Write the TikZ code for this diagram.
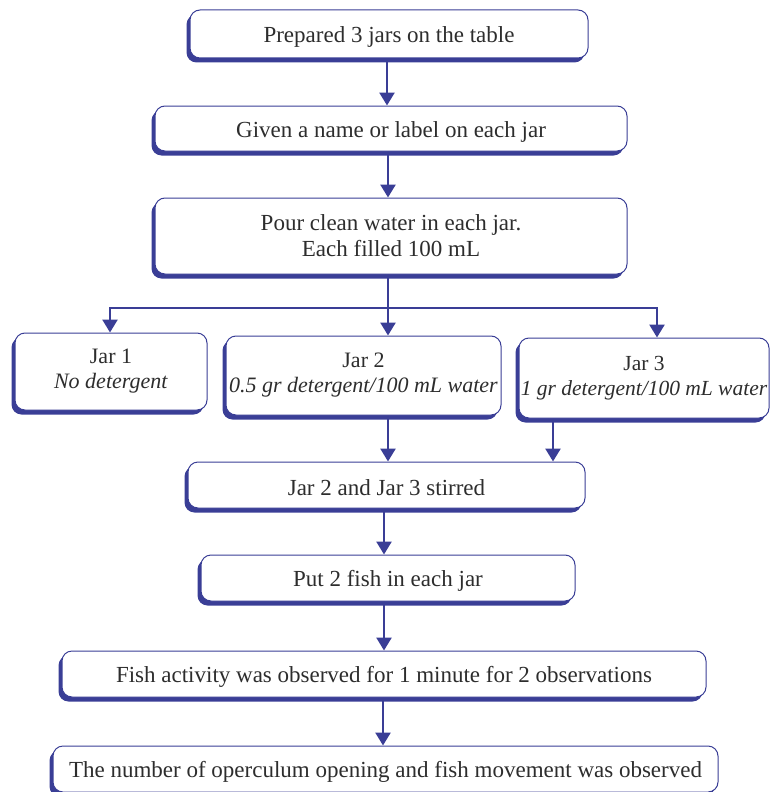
\documentclass[tikz,border=0pt]{standalone}
\usepackage{fontspec}
\setmainfont{Liberation Serif}
\usetikzlibrary{arrows.meta,shadows,calc}
\definecolor{fblue}{RGB}{58,62,150}
\definecolor{ftext}{RGB}{45,45,45}
\tikzset{
  fbox/.style={draw=fblue, line width=1pt, rounded corners=10pt, fill=white,
    general shadow={shadow xshift=-3.5pt, shadow yshift=-4.5pt, fill=fblue},
    text=ftext, font=\fontsize{23}{27}\selectfont, align=center, inner sep=0pt,
    execute at begin node={\rule{0pt}{22pt}}},
  jarfont/.style={font=\fontsize{22}{26}\selectfont},
  arr/.style={draw=fblue, line width=2.6pt, -{Triangle[width=15pt,length=13pt]}},
  lin/.style={draw=fblue, line width=2.6pt}
}
\begin{document}
\begin{tikzpicture}[x=1pt,y=-1pt]
\useasboundingbox (0,0) rectangle (770,792);
\node[fbox, minimum width=398pt, minimum height=48pt] (b1) at (389,34) {Prepared 3 jars on the table};
\node[fbox, minimum width=472pt, minimum height=45pt] (b2) at (391,128.5) {Given a name or label on each jar};
\node[fbox, minimum width=472pt, minimum height=76pt] (b3) at (391,236) {Pour clean water in each jar.\\[-1pt] Each filled 100 mL};
\node[fbox, jarfont, minimum width=192pt, minimum height=77pt] (j1) at (111,371.5) {Jar 1\\[-1pt] \textit{No detergent}};
\node[fbox, jarfont, minimum width=275pt, minimum height=79pt] (j2) at (363.5,375.5) {Jar 2\\[-1pt] \textit{0.5 gr detergent/100 mL water}};
\node[fbox, font=\fontsize{21.5}{26}\selectfont, minimum width=250pt, minimum height=80pt] (j3) at (644,378) {Jar 3\\[-1pt] \textit{1 gr detergent/100 mL water}};
\node[fbox, minimum width=397pt, minimum height=46pt] (b4) at (386.5,485) {Jar 2 and Jar 3 stirred};
\node[fbox, minimum width=374pt, minimum height=46pt] (b5) at (388,578) {Put 2 fish in each jar};
\node[fbox, minimum width=644pt, minimum height=46pt] (b6) at (384,674) {Fish activity was observed for 1 minute for 2 observations};
\node[fbox, minimum width=665pt, minimum height=46pt] (b7) at (385.5,769) {The number of operculum opening and fish movement was observed};
% connectors
\draw[arr] ([xshift=-2pt]b1.south) -- ([xshift=-2pt]b1.south |- b2.north);
\draw[arr] ([xshift=-3pt]b2.south) -- ([xshift=-3pt]b2.south |- b3.north);
\coordinate (br) at (388,308);
\coordinate (bl) at (110,308);
\coordinate (brr) at (657,308);
\draw[lin] ([xshift=-3pt]b3.south) -- (br);
\draw[lin, line cap=rect] (bl) -- (brr);
\draw[arr] (bl) -- (bl |- j1.north);
\draw[arr] (br) -- (br |- j2.north);
\draw[arr] (brr) -- (brr |- j3.north);
\draw[arr] ([xshift=1.5pt]j2.south -| b4.north) -- ([xshift=1.5pt]b4.north);
\draw[arr] ([xshift=-91pt]j3.south) -- ([xshift=-91pt]j3.south |- b4.north);
\draw[arr] ([xshift=-2.5pt]b4.south) -- ([xshift=-2.5pt]b4.south |- b5.north);
\draw[arr] ([xshift=-4pt]b5.south) -- ([xshift=-4pt]b5.south |- b6.north);
\draw[arr] ([xshift=-1pt]b6.south) -- ([xshift=-1pt]b6.south |- b7.north);
\end{tikzpicture}
\end{document}
